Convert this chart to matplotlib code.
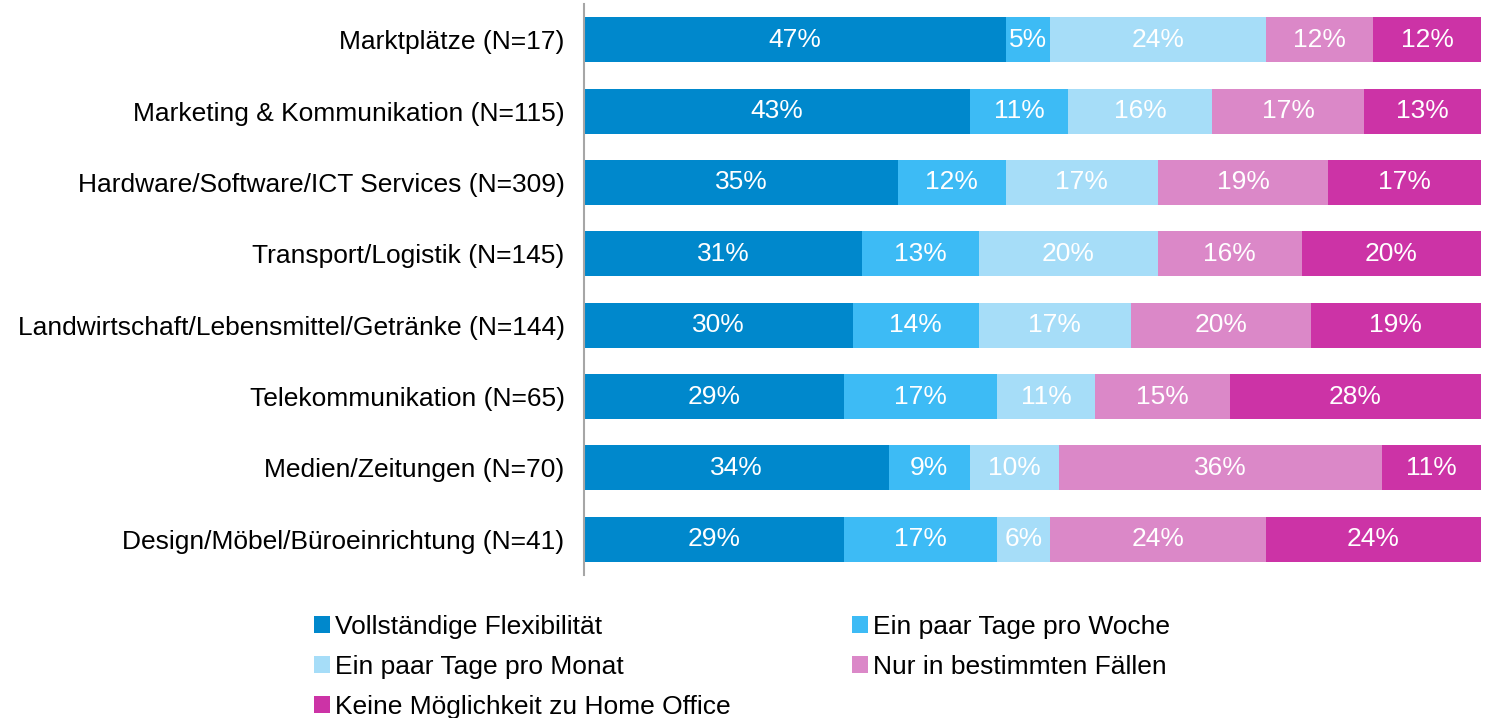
import matplotlib.pyplot as plt
import numpy as np

plt.rcParams['font.family'] = ['Liberation Sans', 'DejaVu Sans']

# data
categories = ['Marktplätze (N=17)', 'Marketing & Kommunikation (N=115)',
              'Hardware/Software/ICT Services (N=309)', 'Transport/Logistik (N=145)',
              'Landwirtschaft/Lebensmittel/Getränke (N=144)', 'Telekommunikation (N=65)',
              'Medien/Zeitungen (N=70)', 'Design/Möbel/Büroeinrichtung (N=41)']
series_names = ['Vollständige Flexibilität', 'Ein paar Tage pro Woche',
                'Ein paar Tage pro Monat', 'Nur in bestimmten Fällen',
                'Keine Möglichkeit zu Home Office']
vollstaendig = [47, 43, 35, 31, 30, 29, 34, 29]
tage_woche = [5, 11, 12, 13, 14, 17, 9, 17]
tage_monat = [24, 16, 17, 20, 17, 11, 10, 6]
bestimmte_faelle = [12, 17, 19, 16, 20, 15, 36, 24]
keine = [12, 13, 17, 20, 19, 28, 11, 24]
colors = ['#0088CC', '#3DBBF5', '#A6DDF8', '#DB88C8', '#CC33A6']

series = [vollstaendig, tage_woche, tage_monat, bestimmte_faelle, keine]

fig = plt.figure(figsize=(14.95, 7.18), dpi=100)
ax = fig.add_axes([0.3906, 0.1992, 0.6, 0.7952])

y = np.arange(len(categories))
left = np.zeros(len(categories))
handles = []
for vals, name, c in zip(series, series_names, colors):
    vals = np.array(vals, dtype=float)
    bars = ax.barh(y, vals, left=left, height=0.63, color=c, label=name)
    handles.append(bars)
    for yi, l, v in zip(y, left, vals):
        ax.text(l + v / 2, yi, f'{int(v)}%', ha='center', va='center',
                color='white', fontsize=19)
    left += vals

ax.set_xlim(0, 100)
ax.set_ylim(7.5, -0.5)
ax.set_yticks(y, labels=categories, fontsize=19)
ax.tick_params(axis='y', length=0, pad=14)
ax.set_xticks([])
for s in ['top', 'right', 'bottom']:
    ax.spines[s].set_visible(False)
ax.spines['left'].set_color('#A6A6A6')
ax.spines['left'].set_linewidth(1.5)

# legend is filled row by row in the reference
order = [0, 2, 4, 1, 3]
fig.legend([handles[i] for i in order], [series_names[i] for i in order],
           loc='upper left', bbox_to_anchor=(0.203, 0.158), ncol=2,
           frameon=False, fontsize=19, handlelength=0.6, handleheight=0.6,
           handletextpad=0.2, columnspacing=4.6, labelspacing=0.6,
           borderaxespad=0)

fig.savefig('out.png', dpi=100)
